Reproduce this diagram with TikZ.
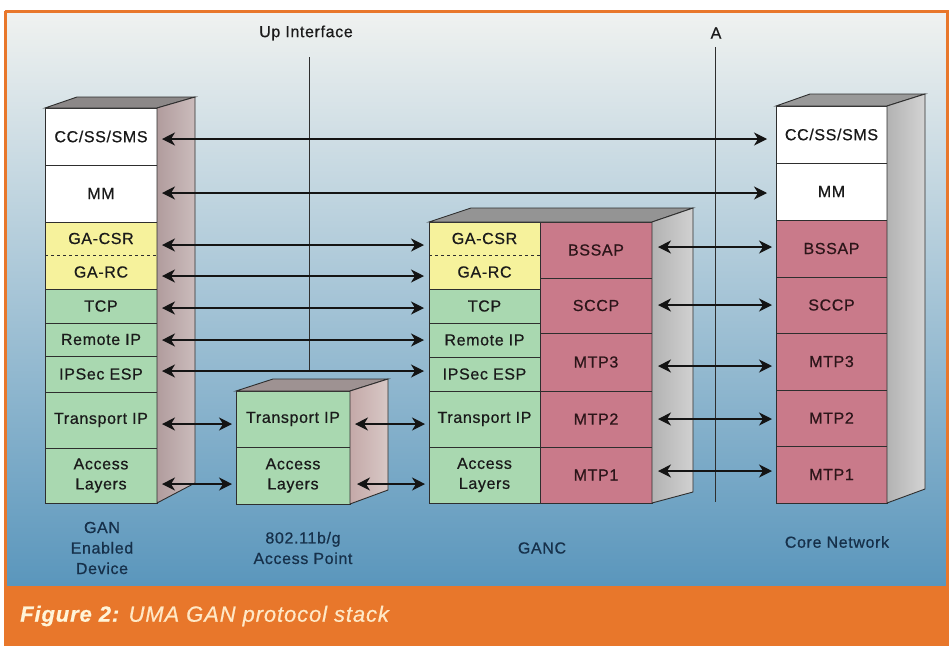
\documentclass[tikz,border=0pt]{standalone}
\usepackage{fontspec}
\setmainfont{Liberation Sans}[LetterSpace=4, FakeBold=0.6]
\usetikzlibrary{arrows.meta,calc}
\definecolor{orng}{HTML}{E8772B}
\definecolor{bgtop}{HTML}{F0F2F0}
\definecolor{bgmid}{HTML}{B2CEDC}
\definecolor{bgbot}{HTML}{5A96BC}
\definecolor{ylw}{HTML}{F6F29C}
\definecolor{grn}{HTML}{A9D8B0}
\definecolor{rdl}{HTML}{C97A8A}
\definecolor{edgec}{HTML}{2E2E2E}
\definecolor{txtc}{HTML}{1A1A1A}
\definecolor{rtxt}{HTML}{2C1519}
\definecolor{navy}{HTML}{16304A}
\definecolor{capa}{HTML}{FFF4D8}
\definecolor{capb}{HTML}{FFE8C6}
\definecolor{dsideL}{HTML}{B19C9D}
\definecolor{dsideR}{HTML}{CBBCBC}
\definecolor{asideL}{HTML}{C4A9A8}
\definecolor{asideR}{HTML}{D8C8C6}
\definecolor{dtop}{HTML}{8C8888}
\definecolor{atop}{HTML}{9E9292}
\begin{document}
\begin{tikzpicture}[x=1pt,y=-1pt,
  lay/.style={draw=edgec, line width=0.9pt, inner sep=0pt, outer sep=0pt,
    anchor=north west, align=center, text=txtc,
    font=\fontsize{16}{20}\selectfont},
  wl/.style={lay, fill=white},
  yl/.style={lay, fill=ylw, draw=none},
  gl/.style={lay, fill=grn},
  rl/.style={lay, fill=rdl, text=rtxt},
  face/.style={draw=edgec, line width=0.9pt},
  biarr/.style={{Stealth[length=13pt,width=13pt,inset=4pt]}-{Stealth[length=13pt,width=13pt,inset=4pt]},
    line width=1.2pt, draw=black!92},
  vline/.style={draw=edgec, line width=0.8pt},
  lbl/.style={align=center, text=navy, font=\fontsize{16}{20.5}\selectfont},
  toplbl/.style={text=txtc, font=\fontsize{16}{20}\selectfont}
]
\useasboundingbox (0,0) rectangle (952,646);
\fill[white] (0,0) rectangle (952,646);
% background and frame
\shade[top color=bgtop, middle color=bgmid, bottom color=bgbot] (5,11) rectangle (947,587);
\fill[orng] (5,586) rectangle (949,646);
\draw[orng, line width=3pt] (5,11) -- (947,11) -- (947,587);
\draw[orng, line width=3pt] (5,11) -- (5,646);

% vertical interface lines
\node[toplbl] (upl) at (306,33) {Up Interface};
\node[toplbl] (al) at (716,33) {A};
\coordinate (upT) at (309,57);
\coordinate (upB) at (309,370);
\coordinate (aT) at (715,47);
\coordinate (aB) at (715,502);
\draw[vline] (upT) -- (upB);
\draw[vline] (aT) -- (aB);

% ---- GAN enabled device
\node[wl, minimum width=112, minimum height=57] (d1) at (45,108) {CC/SS/SMS};
\node[wl, minimum width=112, minimum height=57] (d2) at (45,165) {MM};
\node[yl, minimum width=112, minimum height=33] (d3) at (45,222) {GA-CSR};
\node[yl, minimum width=112, minimum height=34] (d4) at (45,255) {GA-RC};
\draw[face] (d3.north west) rectangle (d4.south east);
\draw[edgec, dashed, line width=0.7pt] (d3.south west) -- (d3.south east);
\node[gl, minimum width=112, minimum height=34] (d5) at (45,289) {TCP};
\node[gl, minimum width=112, minimum height=33] (d6) at (45,323) {Remote IP};
\node[gl, minimum width=112, minimum height=36] (d7) at (45,356) {IPSec ESP};
\node[gl, minimum width=112, minimum height=56] (d8) at (45,392) {Transport IP};
\node[gl, minimum width=112, minimum height=55] (d9) at (45,448) {Access\\Layers};
\fill[face, fill=dtop] (d1.north west) -- ++(32,-11) -- ++(118,0) -- (d1.north east) -- cycle;
\shade[left color=dsideL, right color=dsideR]
  (d1.north east) -- ++(38,-11) -- ++(0,386) -- (d9.south east) -- cycle;
\draw[face] (d1.north east) -- ++(38,-11) -- ++(0,386) -- (d9.south east) -- cycle;

% ---- access point
\node[gl, minimum width=114, minimum height=56] (a1) at (236,391) {Transport IP};
\node[gl, minimum width=114, minimum height=57] (a2) at (236,447) {Access\\Layers};
\fill[face, fill=atop] (a1.north west) -- ++(37,-12) -- ++(115,0) -- (a1.north east) -- cycle;
\shade[left color=asideL, right color=asideR]
  (a1.north east) -- ++(38,-12) -- ++(0,111) -- (a2.south east) -- cycle;
\draw[face] (a1.north east) -- ++(38,-12) -- ++(0,111) -- (a2.south east) -- cycle;

% ---- GANC
\node[yl, minimum width=111, minimum height=33] (g1) at (429,222) {GA-CSR};
\node[yl, minimum width=111, minimum height=34] (g2) at (429,255) {GA-RC};
\draw[face] (g1.north west) rectangle (g2.south east);
\draw[edgec, dashed, line width=0.7pt] (g1.south west) -- (g1.south east);
\node[gl, minimum width=111, minimum height=34] (g3) at (429,289) {TCP};
\node[gl, minimum width=111, minimum height=34] (g4) at (429,323) {Remote IP};
\node[gl, minimum width=111, minimum height=34] (g5) at (429,357) {IPSec ESP};
\node[gl, minimum width=111, minimum height=56] (g6) at (429,391) {Transport IP};
\node[gl, minimum width=111, minimum height=56] (g7) at (429,447) {Access\\Layers};
\node[rl, minimum width=112, minimum height=56] (r1) at (540,222) {BSSAP};
\node[rl, minimum width=112, minimum height=55] (r2) at (540,278) {SCCP};
\node[rl, minimum width=112, minimum height=58] (r3) at (540,333) {MTP3};
\node[rl, minimum width=112, minimum height=56] (r4) at (540,391) {MTP2};
\node[rl, minimum width=112, minimum height=56] (r5) at (540,447) {MTP1};
\fill[face, fill=black!42] (g1.north west) -- ++(42,-14) -- ++(222,0) -- (r1.north east) -- cycle;
\shade[left color=black!30, right color=black!18]
  (r1.north east) -- ++(41,-14) -- ++(0,284) -- (r5.south east) -- cycle;
\draw[face] (r1.north east) -- ++(41,-14) -- ++(0,284) -- (r5.south east) -- cycle;

% ---- core network
\node[wl, minimum width=111, minimum height=57] (c1) at (776,106) {CC/SS/SMS};
\node[wl, minimum width=111, minimum height=57] (c2) at (776,163) {MM};
\node[rl, minimum width=111, minimum height=57] (c3) at (776,220) {BSSAP};
\node[rl, minimum width=111, minimum height=56] (c4) at (776,277) {SCCP};
\node[rl, minimum width=111, minimum height=57] (c5) at (776,333) {MTP3};
\node[rl, minimum width=111, minimum height=56] (c6) at (776,390) {MTP2};
\node[rl, minimum width=111, minimum height=57] (c7) at (776,446) {MTP1};
\fill[face, fill=black!40] (c1.north west) -- ++(34,-12) -- ++(115,0) -- (c1.north east) -- cycle;
\shade[left color=black!30, right color=black!17]
  (c1.north east) -- ++(38,-12) -- ++(0,395) -- (c7.south east) -- cycle;
\draw[face] (c1.north east) -- ++(38,-12) -- ++(0,395) -- (c7.south east) -- cycle;

% ---- arrows
\draw[biarr] ($(d1.east |- 0,139)+(5,0)$) -- ($(c1.west |- 0,139)+(-9,0)$);
\draw[biarr] ($(d2.east |- 0,193)+(5,0)$) -- ($(c2.west |- 0,193)+(-9,0)$);
\draw[biarr] ($(d3.east |- 0,245)+(5,0)$) -- ($(g1.west |- 0,245)+(-5,0)$);
\draw[biarr] ($(d4.east |- 0,276)+(5,0)$) -- ($(g2.west |- 0,276)+(-5,0)$);
\draw[biarr] ($(d5.east |- 0,308)+(5,0)$) -- ($(g3.west |- 0,308)+(-5,0)$);
\draw[biarr] ($(d6.east |- 0,340)+(5,0)$) -- ($(g4.west |- 0,340)+(-5,0)$);
\draw[biarr] ($(d7.east |- 0,371)+(5,0)$) -- ($(g5.west |- 0,371)+(-5,0)$);
\draw[biarr] ($(d8.east |- 0,424)+(5,0)$) -- ($(a1.west |- 0,424)+(-4,0)$);
\draw[biarr] ($(d9.east |- 0,484)+(5,0)$) -- ($(a2.west |- 0,484)+(-4,0)$);
\draw[biarr] ($(a1.east |- 0,424)+(5,0)$) -- ($(g6.west |- 0,424)+(-4,0)$);
\draw[biarr] ($(a2.east |- 0,484)+(7,0)$) -- ($(g7.west |- 0,484)+(-4,0)$);
\draw[biarr] ($(r1.east |- 0,247)+(6,0)$) -- ($(c3.west |- 0,247)+(-4,0)$);
\draw[biarr] ($(r2.east |- 0,305)+(6,0)$) -- ($(c4.west |- 0,305)+(-4,0)$);
\draw[biarr] ($(r3.east |- 0,366)+(6,0)$) -- ($(c5.west |- 0,366)+(-4,0)$);
\draw[biarr] ($(r4.east |- 0,419)+(6,0)$) -- ($(c6.west |- 0,419)+(-4,0)$);
\draw[biarr] ($(r5.east |- 0,471)+(6,0)$) -- ($(c7.west |- 0,471)+(-4,0)$);

% ---- bottom labels
\node[lbl] (ldev) at (102,548) {GAN\\Enabled\\Device};
\node[lbl] (lap) at (303,548) {802.11b/g\\Access Point};
\node[lbl] (lganc) at (542,548) {GANC};
\node[lbl] (lcore) at (837,542) {Core Network};

% ---- caption
\node[anchor=west, inner sep=0pt, font=\fontsize{22}{26}\selectfont] (cap) at (20,616)
  {\textcolor{capa}{\bfseries\itshape Figure 2:} \textcolor{capb}{\itshape UMA GAN protocol stack}};
\end{tikzpicture}
\end{document}
